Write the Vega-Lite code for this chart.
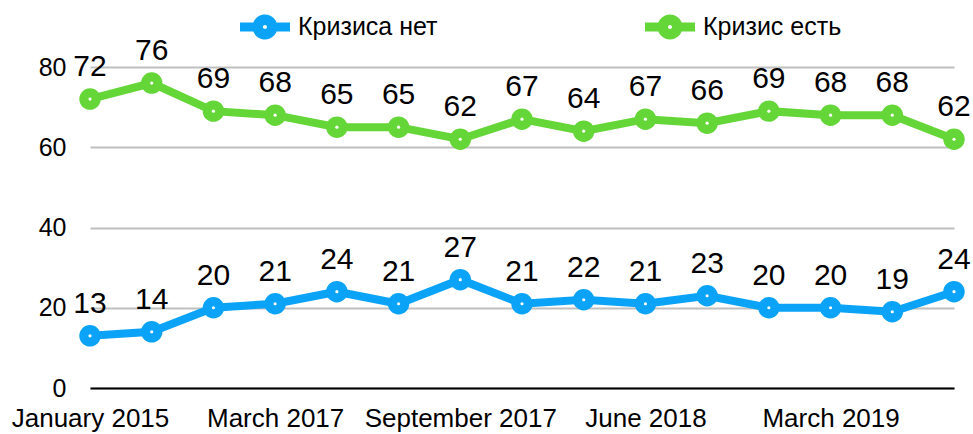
{
  "$schema": "https://vega.github.io/schema/vega-lite/v6.json",
  "width": 864,
  "height": 321,
  "autosize": {"type": "none"},
  "padding": {"left": 90, "top": 67, "right": 19, "bottom": 46},
  "background": "white",
  "config": {
    "view": {"stroke": null},
    "font": "Liberation Sans"
  },
  "data": {
    "values": [
      {"date": "January 2015", "series": "Кризиса нет", "value": 13},
      {"date": "March 2016", "series": "Кризиса нет", "value": 14},
      {"date": "November 2016", "series": "Кризиса нет", "value": 20},
      {"date": "March 2017", "series": "Кризиса нет", "value": 21},
      {"date": "May 2017", "series": "Кризиса нет", "value": 24},
      {"date": "July 2017", "series": "Кризиса нет", "value": 21},
      {"date": "September 2017", "series": "Кризиса нет", "value": 27},
      {"date": "December 2017", "series": "Кризиса нет", "value": 21},
      {"date": "March 2018", "series": "Кризиса нет", "value": 22},
      {"date": "June 2018", "series": "Кризиса нет", "value": 21},
      {"date": "September 2018", "series": "Кризиса нет", "value": 23},
      {"date": "December 2018", "series": "Кризиса нет", "value": 20},
      {"date": "March 2019", "series": "Кризиса нет", "value": 20},
      {"date": "June 2019", "series": "Кризиса нет", "value": 19},
      {"date": "September 2019", "series": "Кризиса нет", "value": 24},
      {"date": "January 2015", "series": "Кризис есть", "value": 72},
      {"date": "March 2016", "series": "Кризис есть", "value": 76},
      {"date": "November 2016", "series": "Кризис есть", "value": 69},
      {"date": "March 2017", "series": "Кризис есть", "value": 68},
      {"date": "May 2017", "series": "Кризис есть", "value": 65},
      {"date": "July 2017", "series": "Кризис есть", "value": 65},
      {"date": "September 2017", "series": "Кризис есть", "value": 62},
      {"date": "December 2017", "series": "Кризис есть", "value": 67},
      {"date": "March 2018", "series": "Кризис есть", "value": 64},
      {"date": "June 2018", "series": "Кризис есть", "value": 67},
      {"date": "September 2018", "series": "Кризис есть", "value": 66},
      {"date": "December 2018", "series": "Кризис есть", "value": 69},
      {"date": "March 2019", "series": "Кризис есть", "value": 68},
      {"date": "June 2019", "series": "Кризис есть", "value": 68},
      {"date": "September 2019", "series": "Кризис есть", "value": 62}
    ]
  },
  "encoding": {
    "x": {
      "field": "date",
      "type": "ordinal",
      "scale": {
        "type": "point",
        "padding": 0,
        "domain": ["January 2015", "March 2016", "November 2016", "March 2017", "May 2017", "July 2017", "September 2017", "December 2017", "March 2018", "June 2018", "September 2018", "December 2018", "March 2019", "June 2019", "September 2019"]
      },
      "axis": {
        "title": null,
        "values": ["January 2015", "March 2017", "September 2017", "June 2018", "March 2019"],
        "labelAngle": 0,
        "labelFontSize": 26,
        "labelColor": "black",
        "labelPadding": 17,
        "labelBaseline": "top",
        "labelOverlap": false,
        "labelFlush": false,
        "labelLimit": 400,
        "ticks": false,
        "grid": false,
        "domainColor": "black",
        "domainWidth": 2,
        "zindex": 1
      }
    },
    "y": {
      "field": "value",
      "type": "quantitative",
      "scale": {"domain": [0, 80], "nice": false, "zero": true},
      "axis": {
        "title": null,
        "values": [0, 20, 40, 60, 80],
        "labelFontSize": 25,
        "labelColor": "black",
        "labelPadding": 24,
        "ticks": false,
        "domain": false,
        "gridColor": "#BFBFBF",
        "gridWidth": 2
      }
    }
  },
  "layer": [
    {
      "mark": {"type": "line", "strokeWidth": 8},
      "encoding": {
        "color": {
          "field": "series",
          "type": "nominal",
          "scale": {"domain": ["Кризиса нет", "Кризис есть"], "range": ["#0BA3F7", "#65D637"]},
          "legend": {
            "title": null,
            "orient": "none",
            "direction": "horizontal",
            "legendX": 150,
            "legendY": -65,
            "padding": 0,
            "symbolType": "M-1,-0.18H-0.46V0.18H-1Z M0.46,-0.18H1V0.18H0.46Z M-0.5,0A0.5,0.5 0 1,1 0.5,0A0.5,0.5 0 1,1 -0.5,0Z M-0.08,0A0.08,0.08 0 1,0 0.08,0A0.08,0.08 0 1,0 -0.08,0Z",
            "symbolSize": 2500,
            "symbolStrokeWidth": 0,
            "labelFontSize": 25,
            "labelColor": "black",
            "labelOffset": 8,
            "labelLimit": 300,
            "columnPadding": 207,
            "encode": {
              "symbols": {
                "update": {
                  "fill": {"scale": "color", "field": "value"},
                  "stroke": {"value": "transparent"},
                  "strokeWidth": {"value": 0},
                  "opacity": {"value": 1}
                }
              }
            }
          }
        }
      }
    },
    {
      "mark": {"type": "point", "filled": true, "shape": "circle", "size": 460, "opacity": 1},
      "encoding": {
        "color": {"field": "series", "type": "nominal", "legend": null}
      }
    },
    {
      "mark": {"type": "point", "filled": true, "shape": "circle", "size": 10, "color": "white", "opacity": 1}
    },
    {
      "mark": {"type": "text", "fontSize": 30, "baseline": "alphabetic", "dy": -23, "color": "black"},
      "encoding": {
        "text": {"field": "value", "type": "quantitative"}
      }
    }
  ]
}
